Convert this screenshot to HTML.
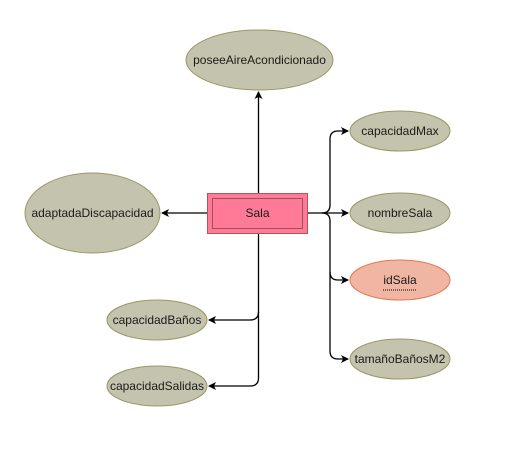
<!DOCTYPE html>
<html><head><meta charset="utf-8"><style>html,body{margin:0;padding:0;background:#fff}svg{display:block}</style></head>
<body>
<svg width="530" height="453" viewBox="0 0 530 453" xmlns="http://www.w3.org/2000/svg" font-family="Liberation Sans, Arial, sans-serif" font-size="12" fill="#1a1a1a">
<defs>
<marker id="a" markerWidth="8" markerHeight="8" refX="7" refY="4" orient="auto" markerUnits="userSpaceOnUse">
<path d="M0,0 L8,4 L0,8 L2,4 Z" fill="#000"/>
</marker>
</defs>
<g stroke="#000" stroke-width="1.3" fill="none">
<path d="M258.5,193 V92" marker-end="url(#a)"/>
<path d="M207,213 H162" marker-end="url(#a)"/>
<path d="M307,213 H322 Q330,213 330,205 V139 Q330,131 338,131 H348" marker-end="url(#a)"/>
<path d="M322,213 H348" marker-end="url(#a)"/>
<path d="M322,213 Q330,213 330,221 V272 Q330,280 338,280 H348" marker-end="url(#a)"/>
<path d="M330,272 V351 Q330,359 338,359 H348" marker-end="url(#a)"/>
<path d="M258.5,233 V312 Q258.5,320 250,320 H209" marker-end="url(#a)"/>
<path d="M258.5,312 V378 Q258.5,386 250,386 H209" marker-end="url(#a)"/>
</g>
<g fill="#c4c3ad" stroke="#9a9866" stroke-width="1">
<ellipse cx="259.5" cy="60" rx="73.5" ry="30"/>
<ellipse cx="92.5" cy="213" rx="67.5" ry="40"/>
<ellipse cx="400" cy="131" rx="50" ry="20"/>
<ellipse cx="400" cy="213" rx="50" ry="20"/>
<ellipse cx="400" cy="359" rx="50" ry="20"/>
<ellipse cx="157" cy="320" rx="50" ry="20"/>
<ellipse cx="157" cy="386" rx="50" ry="20"/>
</g>
<ellipse cx="400" cy="280" rx="50" ry="20" fill="#f0b5a3" stroke="#e07a5a"/>
<rect x="207.5" y="193.5" width="100" height="40" fill="#ff7a97" stroke="#b85450"/>
<rect x="212.5" y="198.5" width="90" height="30" fill="none" stroke="#a0505a"/>
<g text-anchor="middle">
<text x="259.5" y="64">poseeAireAcondicionado</text>
<text x="92.5" y="217">adaptadaDiscapacidad</text>
<text x="400" y="135">capacidadMax</text>
<text x="400" y="217">nombreSala</text>
<text x="400" y="284">idSala</text>
<text x="400" y="363">tamañoBañosM2</text>
<text x="157" y="324">capacidadBaños</text>
<text x="157" y="390">capacidadSalidas</text>
<text x="257.5" y="217">Sala</text>
</g>
<line x1="383" y1="290" x2="417" y2="290" stroke="#000" stroke-width="1" stroke-dasharray="1,1"/>
</svg>
</body></html>
